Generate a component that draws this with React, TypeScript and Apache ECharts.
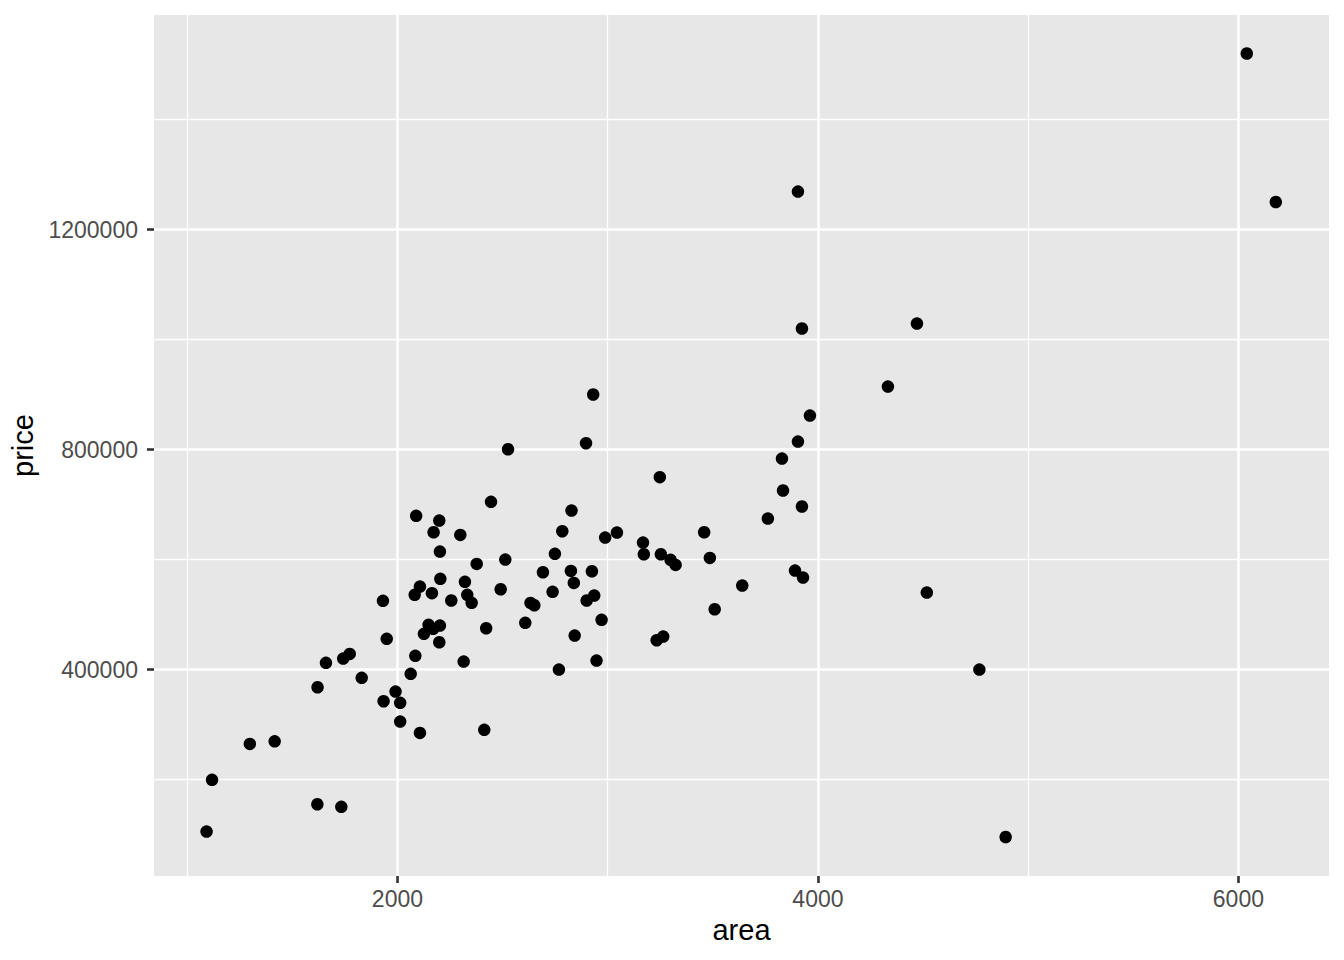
import React, { useEffect, useRef } from "react";
import * as echarts from "echarts";

// Scatter data: house area vs. price
const areaValues: number[] = [
  6040, 6178, 3905, 3924, 4471, 4333, 3962, 3905, 3829, 3834,
  3924, 3762, 3640, 3891, 3929, 4518, 4768, 4893, 3248, 3044,
  3459, 3168, 3172, 3253, 3299, 3323, 3486, 3509, 3233, 3264,
  2931, 2526, 2897, 2445, 2828, 2784, 2988, 2513, 2749, 2692,
  2825, 2925, 2839, 2491, 2738, 2633, 2651, 2900, 2936, 2422,
  2608, 2971, 2843, 2768, 2947, 2089, 2199, 2172, 2299, 2202,
  2377, 2204, 2321, 2107, 2082, 2164, 2256, 2332, 2353, 1931,
  1949, 2148, 2202, 2170, 2126, 2199, 2085, 2315, 1773, 1742,
  1660, 1830, 2063, 1620, 1991, 1934, 2013, 2013, 2107, 2413,
  1298, 1416, 1118, 1092, 1619, 1733,
];
const priceValues: number[] = [
  1520000, 1250000, 1269000, 1020000, 1029000, 914500, 861800, 814500, 783600, 725500,
  696400, 674500, 552700, 580000, 567300, 540000, 400000, 95600, 749700, 649000,
  649600, 630900, 609600, 609600, 599500, 590300, 603000, 509600, 453300, 460000,
  900000, 800500, 811500, 704900, 689100, 651500, 640000, 600000, 610400, 576900,
  579400, 578700, 557600, 546000, 541300, 521200, 516900, 525500, 534500, 475100,
  484900, 490400, 461800, 400000, 416400, 679500, 670900, 649600, 644800, 614500,
  592000, 564900, 559500, 550900, 535800, 538900, 525500, 535800, 521300, 525000,
  455800, 481300, 480000, 474000, 464900, 449600, 424900, 414500, 428500, 420000,
  412200, 384900, 392200, 367800, 360000, 342400, 339500, 305500, 284900, 290400,
  264900, 269600, 199500, 105500, 155100, 150400,
];

const xMajorTicks: number[] = [2000, 4000, 6000];
const xMinorTicks: number[] = [1000, 3000, 5000];
const yMajorTicks: number[] = [400000, 800000, 1200000];
const yMinorTicks: number[] = [200000, 600000, 1000000, 1400000];

const X_MIN = 842;
const X_MAX = 6431;
const Y_MIN = 24700;
const Y_MAX = 1590000;

const FONT = "'Liberation Sans', Arial, Helvetica, sans-serif";

export default function App() {
  const ref = useRef<HTMLDivElement>(null);

  useEffect(() => {
    if (!ref.current) return;
    const chart = echarts.init(ref.current, undefined, { renderer: "svg" });
    const points = areaValues.map((a, i) => [a, priceValues[i]]);

    const hiddenAxisParts = {
      axisLine: { show: false },
      axisTick: { show: false },
      axisLabel: { show: false },
    };

    chart.setOption({
      animation: false,
      backgroundColor: "#FFFFFF",
      grid: {
        left: 154,
        right: 15,
        top: 15,
        bottom: 84,
        show: true,
        backgroundColor: "#E7E7E7",
        borderWidth: 0,
        containLabel: false,
      },
      xAxis: [
        {
          type: "value",
          min: X_MIN,
          max: X_MAX,
          position: "bottom",
          name: "area",
          nameLocation: "middle",
          nameGap: 54,
          nameTextStyle: {
            color: "#000000",
            fontSize: 29,
            fontFamily: FONT,
            verticalAlign: "middle",
          },
          axisLine: { show: false },
          axisTick: {
            show: true,
            length: 7,
            customValues: xMajorTicks,
            lineStyle: { color: "#333333", width: 2.6 },
          },
          axisLabel: {
            customValues: xMajorTicks,
            margin: 11,
            color: "#4D4D4D",
            fontSize: 23,
            fontFamily: FONT,
            formatter: (v: number) => String(v),
          },
          splitLine: { show: true, lineStyle: { color: "#FFFFFF", width: 2.5 } },
          z: 2,
        },
        {
          type: "value",
          min: X_MIN,
          max: X_MAX,
          position: "top",
          ...hiddenAxisParts,
          axisTick: { show: false, customValues: xMinorTicks },
          axisLabel: { show: false, customValues: xMinorTicks },
          splitLine: { show: true, lineStyle: { color: "#FFFFFF", width: 1.3 } },
          z: 1,
        },
      ],
      yAxis: [
        {
          type: "value",
          min: Y_MIN,
          max: Y_MAX,
          position: "left",
          name: "price",
          nameLocation: "middle",
          nameGap: 129,
          nameRotate: 90,
          nameTextStyle: {
            color: "#000000",
            fontSize: 29,
            fontFamily: FONT,
            verticalAlign: "middle",
          },
          axisLine: { show: false },
          axisTick: {
            show: true,
            length: 7,
            customValues: yMajorTicks,
            lineStyle: { color: "#333333", width: 2.6 },
          },
          axisLabel: {
            customValues: yMajorTicks,
            margin: 16,
            color: "#4D4D4D",
            fontSize: 23,
            fontFamily: FONT,
            padding: [3, 0, 0, 0],
            formatter: (v: number) => String(v),
          },
          splitLine: { show: true, lineStyle: { color: "#FFFFFF", width: 2.5 } },
          z: 2,
        },
        {
          type: "value",
          min: Y_MIN,
          max: Y_MAX,
          position: "right",
          ...hiddenAxisParts,
          axisTick: { show: false, customValues: yMinorTicks },
          axisLabel: { show: false, customValues: yMinorTicks },
          splitLine: { show: true, lineStyle: { color: "#FFFFFF", width: 1.3 } },
          z: 1,
        },
      ],
      series: [
        {
          type: "scatter",
          xAxisIndex: 0,
          yAxisIndex: 0,
          data: points,
          symbol: "circle",
          symbolSize: 12.5,
          itemStyle: { color: "#000000", opacity: 1 },
          z: 5,
        },
      ],
    });

    return () => chart.dispose();
  }, []);

  return (
    <div
      ref={ref}
      style={{ position: "fixed", left: 0, top: 0, width: 1344, height: 960 }}
    />
  );
}
